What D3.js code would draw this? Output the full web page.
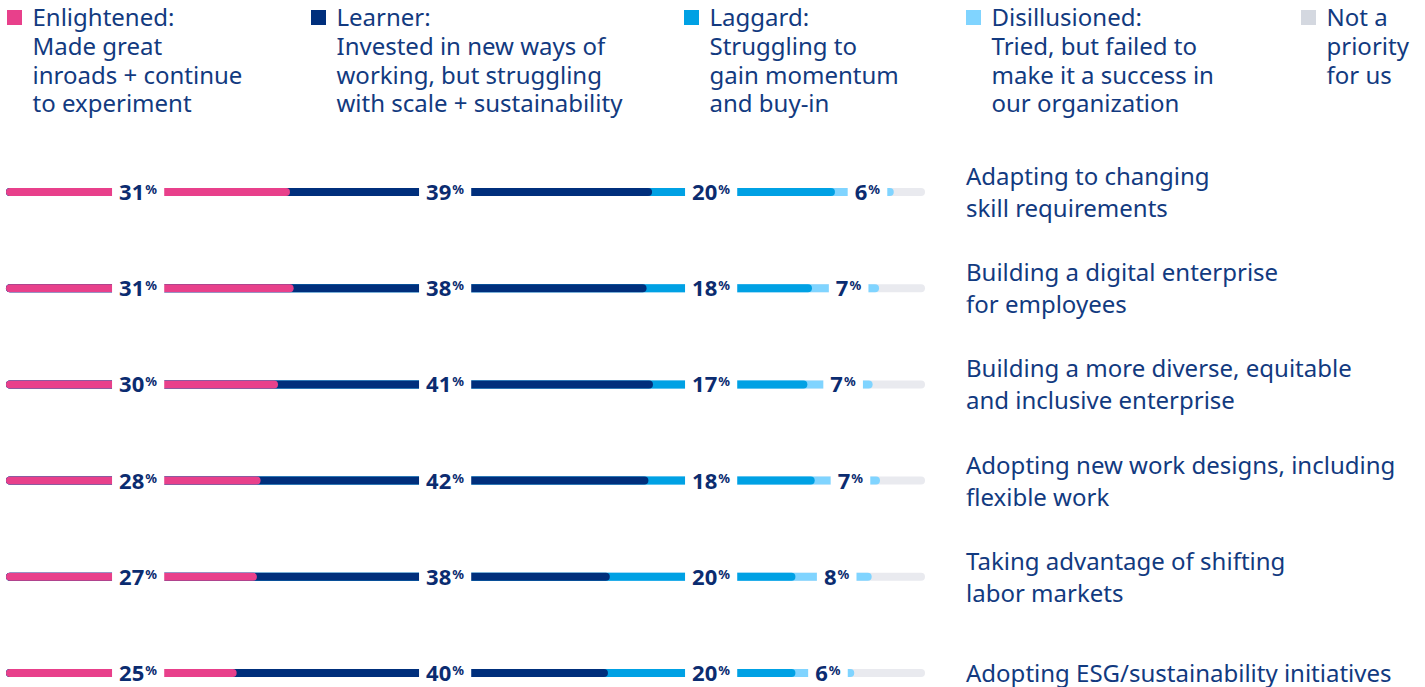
<!DOCTYPE html>
<html>
<head>
<meta charset="utf-8">
<script src="https://cdn.jsdelivr.net/npm/d3@7"></script>
<style>
  body { margin: 0; background: #fff; }
  svg { display: block; font-family: "Noto Sans", "Open Sans", sans-serif; }
</style>
</head>
<body>
<script>
// values (labels are rounded)
var categories = [
  ["Adapting to changing", "skill requirements"],
  ["Building a digital enterprise", "for employees"],
  ["Building a more diverse, equitable", "and inclusive enterprise"],
  ["Adopting new work designs, including", "flexible work"],
  ["Taking advantage of shifting", "labor markets"],
  ["Adopting ESG/sustainability initiatives"]
];
var enlightened = [30.9, 31.3, 29.6, 27.7, 27.3, 25.1];
var learner = [39.4, 38.4, 40.8, 42.2, 38.4, 40.4];
var laggard = [19.9, 18.0, 16.8, 18.1, 20.2, 20.4];
var disillusioned = [6.4, 7.3, 7.1, 7.1, 8.3, 6.4];

var seriesNames = ["Enlightened", "Learner", "Laggard", "Disillusioned", "Not a priority"];
var legendLines = [
  ["Enlightened:", "Made great", "inroads + continue", "to experiment"],
  ["Learner:", "Invested in new ways of", "working, but struggling", "with scale + sustainability"],
  ["Laggard:", "Struggling to", "gain momentum", "and buy-in"],
  ["Disillusioned:", "Tried, but failed to", "make it a success in", "our organization"],
  ["Not a", "priority", "for us"]
];
var colors = ["#e8408b", "#002f7c", "#00a1e4", "#80d4ff", "#e9eaef"];
var legendSwatch = ["#e8408b", "#002f7c", "#00a1e4", "#80d4ff", "#d4d8e0"];

var W = 1425, H = 687;
var textColor = "#123a80";
var numColor = "#0b2c70";

var svg = d3.select("body").append("svg").attr("width", W).attr("height", H);

// legend
var legendX = [7, 311, 684, 966, 1301];
var lg = svg.selectAll("g.leg").data(seriesNames).enter().append("g")
  .attr("class", "leg")
  .attr("transform", function(d, i) { return "translate(" + legendX[i] + ",0)"; });
lg.append("rect").attr("x", 0).attr("y", 10).attr("width", 15).attr("height", 15)
  .attr("fill", function(d, i) { return legendSwatch[i]; });
lg.each(function(d, i) {
  var t = d3.select(this).append("text")
    .attr("font-size", 24).attr("fill", textColor);
  t.selectAll("tspan").data(legendLines[i]).enter().append("tspan")
    .attr("x", 25.5)
    .attr("y", function(l, j) { return 26 + j * 28.8; })
    .text(function(l) { return l; });
});

// scales
var x = d3.scaleLinear().domain([0, 100]).range([6, 925]);
var y = d3.scalePoint().domain(d3.range(categories.length)).range([192, 673]);
var fmt = d3.format(".0f");

var fixedLabelX = [138, 445, 711];

categories.forEach(function(cat, i) {
  var vals = [enlightened[i], learner[i], laggard[i], disillusioned[i]];
  var cum = d3.cumsum(vals);
  var cy = y(i);
  var g = svg.append("g");

  // overlapping rounded bars, widest first
  var segs = [{ end: 100, c: colors[4] }];
  for (var k = 3; k >= 0; k--) segs.push({ end: cum[k], c: colors[k] });
  g.selectAll("rect.bar").data(segs).enter().append("rect")
    .attr("class", "bar")
    .attr("x", x(0))
    .attr("y", cy - 4)
    .attr("height", 8)
    .attr("rx", 4)
    .attr("width", function(d) { return x(d.end) - x(0); })
    .attr("fill", function(d) { return d.c; });

  // value labels with knock-out background
  vals.forEach(function(v, k) {
    var lab = g.append("g");
    var bg = lab.append("rect").attr("fill", "#fff");
    var t = lab.append("text")
      .attr("y", cy + 8)
      .attr("fill", numColor)
      .attr("font-weight", 700)
      .attr("font-size", 22)
      .attr("text-anchor", "middle");
    if (k < 3) {
      t.attr("x", fixedLabelX[k]);
    } else {
      t.attr("x", (x(cum[2]) + x(cum[3])) / 2 + 3);
    }
    t.append("tspan").text(fmt(v));
    t.append("tspan").attr("font-size", 13).attr("dx", 1).attr("dy", -6).text("%");
    var bb = t.node().getBBox();
    bg.attr("x", bb.x - 7).attr("width", bb.width + 14)
      .attr("y", cy - 6).attr("height", 12);
  });

  // category label on the right
  var ct = svg.append("text").attr("font-size", 24).attr("fill", textColor);
  var first = cy + 9 - (cat.length - 1) * 16;
  ct.selectAll("tspan").data(cat).enter().append("tspan")
    .attr("x", 966)
    .attr("y", function(l, j) { return first + j * 32; })
    .text(function(l) { return l; });
});
</script>
</body>
</html>
